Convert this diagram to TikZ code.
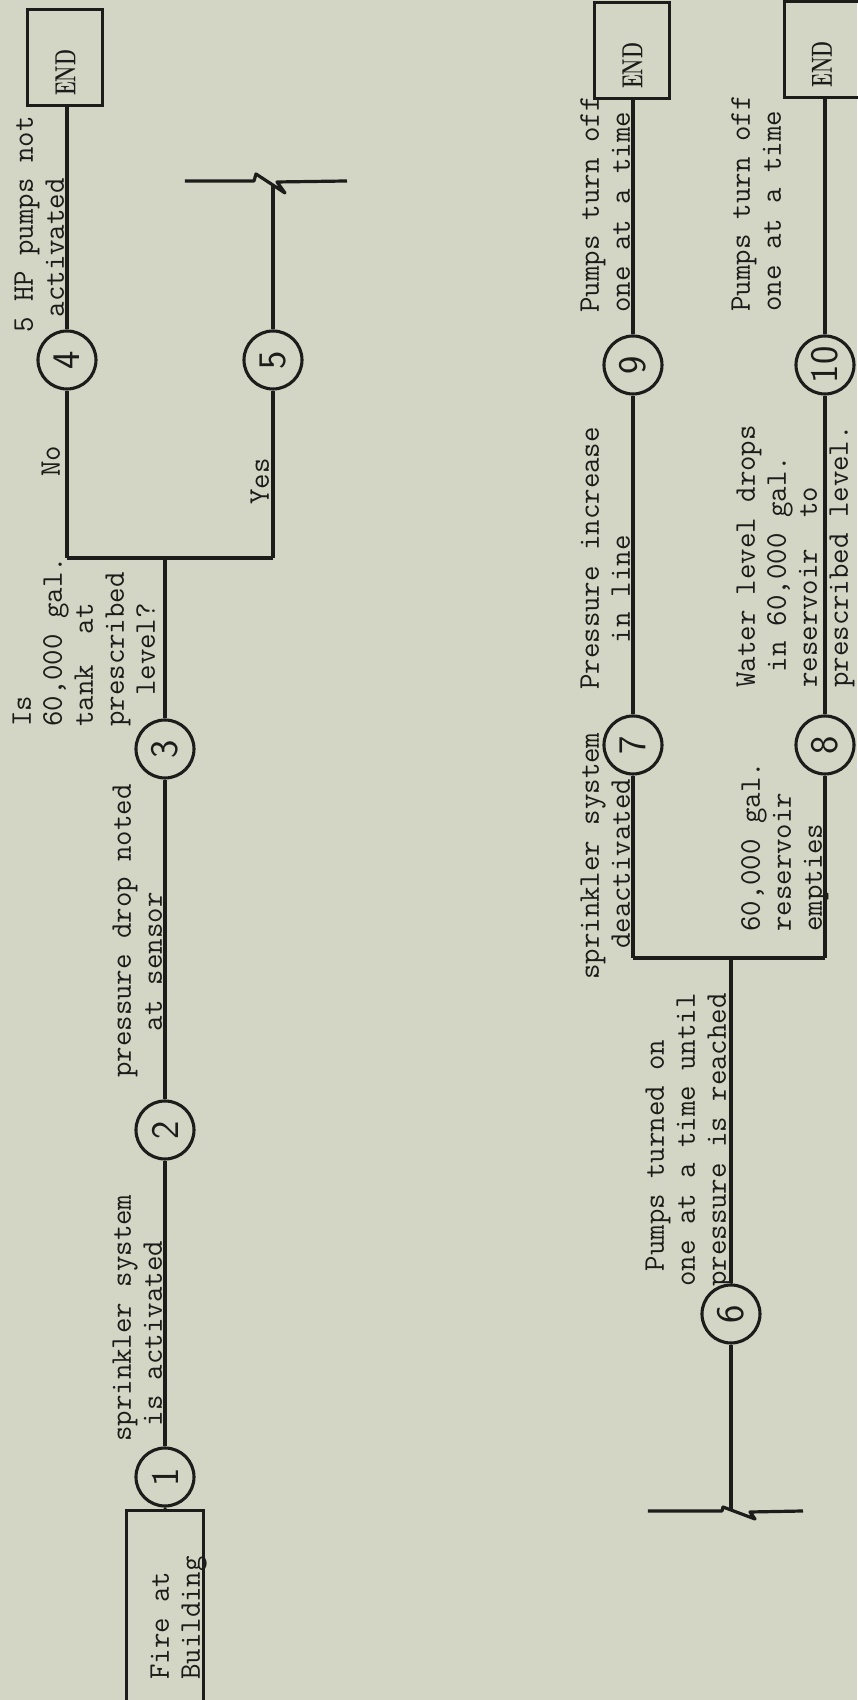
\documentclass[tikz,border=0pt]{standalone}
\usepackage{graphicx}
\usepackage{tikz}
\usetikzlibrary{positioning, calc}
\definecolor{paper}{RGB}{211,214,197}
\definecolor{ink}{RGB}{28,28,26}
\newcommand{\fcEnd}{\scalebox{.64}[1]{\bfseries END}}

\begin{document}
\begin{tikzpicture}[
  x=1pt, y=1pt, rotate=90, transform shape,
  every node/.style={text=ink},
  txt/.style={anchor=base west, inner sep=0pt, align=left,
              font=\ttfamily\fontsize{30}{31}\selectfont},
  num/.style={circle, draw=ink, line width=3.1pt, minimum size=58pt,
              inner sep=0pt, font=\sffamily\fontsize{39}{39}\selectfont},
  firebox/.style={draw=ink, line width=3pt, inner sep=0pt},
  endbox/.style={firebox, minimum width=96pt, minimum height=75pt,
                 text width=76pt, align=left,
                 font=\rmfamily\fontsize{29}{29}\selectfont},
  conn/.style={draw=ink, line width=3.2pt, line join=round}
]
% paper
\fill[paper] (0,0) rectangle (1700,857);
\useasboundingbox (0,0) rectangle (1700,857);

% first line: fire to tank check
\node[firebox, minimum width=199pt, minimum height=77pt] (fire) at (89.5,691.5) {};
\node[txt] (firetxt) at (20,657) {Fire at\\Building};
\node[num] (c1) at (223,692) {1};
\node[num] (c2) at (570,692) {2};
\node[num] (c3) at (951,692) {3};
\coordinate (ba) at (1142,692);
\coordinate (bano) at (1142,790);
\coordinate (bayes) at (1142,584);
\node[num] (c4) at (1340,790) {4};
\node[num] (c5) at (1340,584) {5};
\node[endbox] (enda) at (1642,791.5) {\fcEnd};
\coordinate (brka) at (1519,672);
\coordinate (brkayes) at (1514,584);

\draw[conn] (fire) -- (c1);
\foreach \i/\j in {c1/c2, c2/c3, c3/ba, bano/bayes, bano/c4, bayes/c5}
  \draw[conn] (\i) -- (\j);
\draw[conn] (c4) -- (c4 -| enda.west);
\draw[conn] (c5) -- (brkayes);
\draw[conn] (brka) -- ++(0,-69) -- ++(7,-2) -- ++(-19,-29) -- ++(11,8) -- (1519,510);

\node[txt] (t12) at (258,695) {sprinkler system\\~is activated};
\node[txt] (t23) at (622,695) {pressure drop noted\\~~~at sensor};
\node[txt] (t3) at (973,702) {Is\\60,000 gal.\\tank~~at\\prescribed\\~~level?};
\node[txt] (tno) at (1223,797) {No};
\node[txt] (tyes) at (1195,588) {Yes};
\node[txt] (t4) at (1367,793) {5 HP pumps not\\~activated};

% second line: pumps and reservoir
\coordinate (brkb) at (189,209);
\coordinate (brkbsix) at (190,126);
\node[num] (c6) at (386,126) {6};
\coordinate (bb) at (742,126);
\coordinate (bbup) at (742,224);
\coordinate (bbdn) at (742,32);
\node[num] (c7) at (955,224) {7};
\node[num] (c8) at (955,32) {8};
\node[num] (c9) at (1335,224) {9};
\node[num] (c10) at (1335,32) {10};
\node[endbox] (endb) at (1649,224.5) {\fcEnd};
\node[endbox] (endc) at (1650.5,35) {\fcEnd};

\draw[conn] (brkb) -- ++(0,-74) -- ++(4,-1) -- ++(-12,-32) -- ++(7,5) -- (189,54);
\draw[conn] (brkbsix) -- (c6);
\foreach \i/\j in {c6/bb, bbup/bbdn, bbup/c7, bbdn/c8, c7/c9, c8/c10}
  \draw[conn] (\i) -- (\j);
\draw[conn] (c9) -- (c9 -| endb.west);
\draw[conn] (c10) -- (c10 -| endc.west);

\node[txt] (t6) at (413,131) {~Pumps turned on\\one at a time until\\pressure is reached};
\node[txt] (t67) at (720,227) {sprinkler system\\~~deactivated};
\node[txt] (t68) at (768,35) {60,000 gal.\\reservoir\\empties};
\node[txt] (t79) at (1010,227) {Pressure increase\\~~~in line};
\node[txt] (t810) at (1012,9) {Water level drops\\~in 60,000 gal.\\reservoir~~to\\prescribed level.};
\node[txt] (t9) at (1387,227) {Pumps turn off\\one at a time};
\node[txt] (t10) at (1388,76) {Pumps turn off\\one at a time};
\end{tikzpicture}
\end{document}
